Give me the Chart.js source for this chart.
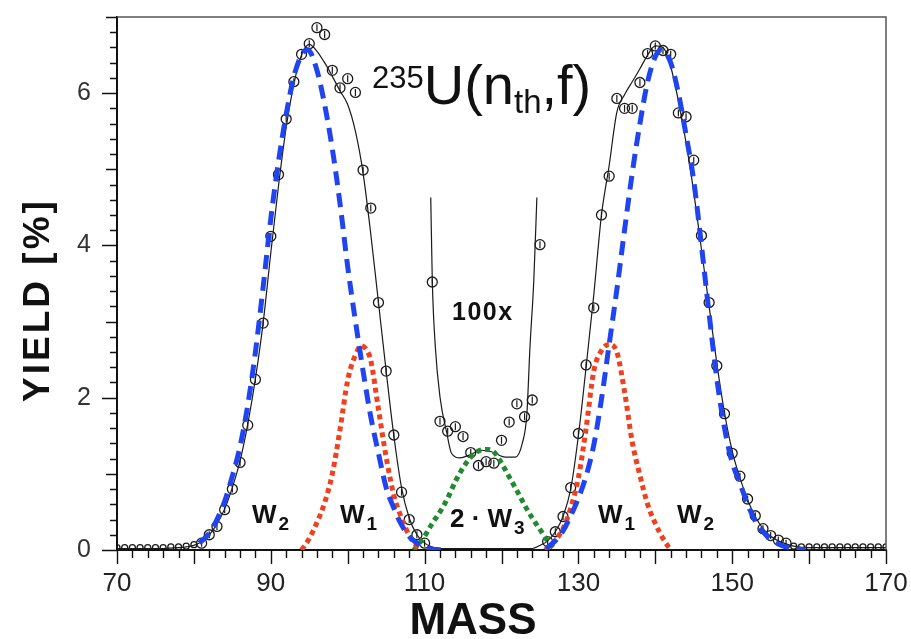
<!DOCTYPE html>
<html>
<head>
<meta charset="utf-8">
<title>235U(nth,f) mass yield</title>
<script src="https://cdn.jsdelivr.net/npm/chart.js@4.4.1/dist/chart.umd.min.js"></script>
<style>
    html, body { margin: 0; padding: 0; background: #fff; }
</style>
</head>
<body>
<canvas id="yield-chart" width="911" height="639"></canvas>
<script>
// measured yields (open circles)
const dataMass = [70, 71, 72, 73, 74, 75, 76, 77, 78, 79, 80, 81, 82, 83, 84, 85, 86, 87, 88, 89, 90,
    91, 92, 93, 94, 95, 96, 97, 98, 99, 100, 101, 102, 103, 104, 105, 106, 107, 108, 109, 110,
    126, 127, 128, 129, 130, 131, 132, 133, 134, 135, 136, 137, 138, 139, 140, 141, 142, 143, 144, 145,
    146, 147, 148, 149, 150, 151, 152, 153, 154, 155, 156, 157, 158, 159, 160, 161, 162, 163, 164, 165,
    166, 167, 168, 169, 170];
const dataYield = [0.03, 0.03, 0.03, 0.03, 0.03, 0.03, 0.03, 0.04, 0.04, 0.05, 0.07, 0.09, 0.20, 0.31, 0.53, 0.80, 1.15, 1.64, 2.24, 2.98, 4.12,
    4.93, 5.66, 6.15, 6.51, 6.65, 6.86, 6.77, 6.30, 6.07, 6.19, 6.01, 4.99, 4.49, 3.25, 2.35, 1.51, 0.76, 0.40, 0.20, 0.09,
    0.11, 0.24, 0.44, 0.82, 1.53, 2.43, 3.18, 4.40, 4.91, 5.93, 5.80, 5.80, 6.14, 6.52, 6.62, 6.56, 6.51, 5.74, 5.69, 5.12,
    4.13, 3.25, 2.42, 1.79, 1.27, 0.97, 0.67, 0.45, 0.28, 0.19, 0.13, 0.09, 0.05, 0.04, 0.04, 0.04, 0.04, 0.04, 0.04, 0.04,
    0.04, 0.04, 0.04, 0.04, 0.04];

// smooth curve through the data
const fitMass = [70, 76, 78, 79, 80, 81, 82, 83, 84, 85, 86, 87, 88, 89, 90, 91, 92, 93, 94, 95, 96, 97, 98, 99, 100,
    101, 102, 103, 104, 105, 106, 107, 108, 109, 110, 111, 112, 124, 125, 126, 127, 128, 129, 130, 131, 132, 133,
    134, 135, 136, 137, 138, 139, 140, 141, 142, 143, 144, 145, 146, 147, 148, 149, 150, 151, 152, 153, 154, 155,
    156, 157, 158, 160, 170];
const fitYield = [0.02, 0.02, 0.03, 0.04, 0.06, 0.11, 0.2, 0.34, 0.54, 0.82, 1.17, 1.65, 2.25, 2.98, 3.9, 4.78, 5.55, 6.12, 6.5, 6.64, 6.55, 6.4, 6.22, 6.03, 5.85,
    5.5, 4.95, 4.15, 3.25, 2.35, 1.5, 0.82, 0.42, 0.2, 0.09, 0.04, 0.02, 0.02, 0.06, 0.12, 0.24, 0.44, 0.8, 1.5, 2.4, 3.35, 4.4,
    5.05, 5.75, 5.98, 6.15, 6.32, 6.5, 6.62, 6.6, 6.35, 5.9, 5.35, 4.7, 3.95, 3.2, 2.45, 1.8, 1.3, 0.95, 0.66, 0.44, 0.28, 0.18,
    0.12, 0.08, 0.05, 0.03, 0.03];

// symmetric valley, yields multiplied by 100
const valleyMass = [111, 112, 113, 114, 115, 116, 117, 118, 119, 120, 121, 122, 123, 124, 125];
const valleyYield = [3.52, 1.69, 1.56, 1.62, 1.49, 1.28, 1.11, 1.16, 1.14, 1.44, 1.68, 1.92, 1.75, 1.97, 4.01];
const valleyFitMass = [110.8, 111, 111.4, 112, 112.9, 113.5, 114.6, 115.9, 117.4, 118.7, 120.5, 121.8, 122.7, 123.3, 123.7, 124.2, 124.6];
const valleyFitYield = [4.63, 3.54, 2.66, 2.01, 1.53, 1.27, 1.21, 1.25, 1.31, 1.29, 1.22, 1.22, 1.40, 1.79, 2.66, 3.54, 4.63];

// fission mode components
const w2LeftMass = [80.7, 82, 83, 84, 85, 86, 87, 88, 89, 90, 91, 92, 93, 94, 94.8, 96, 97, 98, 99, 100, 101, 102, 103, 104, 105, 106, 107, 108, 109, 110, 111, 112.8];
const w2LeftYield = [0.09, 0.22, 0.40, 0.64, 0.97, 1.36, 1.9, 2.6, 3.45, 4.35, 5.1, 5.72, 6.22, 6.5, 6.57, 6.3, 5.85, 5.27, 4.55, 3.72, 3.01, 2.35, 1.75, 1.27, 0.82, 0.55, 0.33, 0.18, 0.09, 0.03, 0.01, 0];
const w2RightMass = [125.8, 127, 128, 129, 130, 131, 132, 133, 134, 135, 136, 137, 138, 139, 140, 140.8, 142, 143, 144, 145, 146, 147, 148, 149, 150, 151, 152, 153, 154, 155, 156, 157, 158, 159.5];
const w2RightYield = [0.02, 0.12, 0.25, 0.45, 0.68, 0.97, 1.38, 1.98, 2.7, 3.42, 4.2, 4.95, 5.6, 6.15, 6.48, 6.57, 6.4, 6.0, 5.45, 4.85, 4.0, 3.1, 2.25, 1.6, 1.15, 0.88, 0.6, 0.38, 0.24, 0.14, 0.08, 0.04, 0.02, 0];
const w1LeftMass = [94, 95, 96, 97, 98, 99, 100, 101, 101.8, 102.5, 103, 104, 105, 106, 107, 108, 109, 109.5];
const w1LeftYield = [0, 0.15, 0.36, 0.62, 1.0, 1.58, 2.23, 2.56, 2.68, 2.62, 2.49, 1.85, 1.22, 0.72, 0.42, 0.19, 0.05, 0];
const w1RightMass = [125.7, 127, 128, 129, 130, 131, 132, 133, 134, 135, 136, 137, 138, 139, 140, 141, 142];
const w1RightYield = [0, 0.13, 0.28, 0.55, 0.95, 1.6, 2.35, 2.62, 2.7, 2.6, 2.08, 1.42, 0.98, 0.6, 0.35, 0.15, 0];
const w3Mass = [108.6, 109, 110, 111, 112, 113, 114, 115, 116, 117, 118, 119, 120, 121, 122, 123, 124, 125, 126, 127];
const w3Yield = [0, 0.05, 0.18, 0.35, 0.5, 0.68, 0.9, 1.08, 1.22, 1.3, 1.32, 1.29, 1.14, 0.96, 0.78, 0.59, 0.42, 0.27, 0.12, 0];

const FONT = '"Liberation Sans", Arial, sans-serif';
const BLUE = '#1f44f0';
const RED = '#f0401e';
const GREEN = '#1f8a2e';

function toPoints(xs, ys) {
    return xs.map((x, i) => ({ x: x, y: ys[i] }));
}

function modeCurve(label, xs, ys, color, dash) {
    return {
        label: label,
        data: toPoints(xs, ys),
        borderColor: color,
        borderWidth: 5,
        borderDash: dash,
        borderCapStyle: 'butt',
        cubicInterpolationMode: 'monotone',
        pointRadius: 0,
        fill: false
    };
}

function thinCurve(label, xs, ys) {
    return {
        label: label,
        data: toPoints(xs, ys),
        borderColor: '#1a1a1a',
        borderWidth: 1.2,
        cubicInterpolationMode: 'monotone',
        pointRadius: 0,
        fill: false
    };
}

function circles(label, xs, ys) {
    return {
        label: label,
        data: toPoints(xs, ys),
        showLine: false,
        pointStyle: 'circle',
        pointRadius: ctx => (ctx.raw && ctx.raw.y < 0.08 ? 3 : 5),
        pointBorderColor: '#1a1a1a',
        pointBackgroundColor: 'rgba(255,255,255,0)',
        pointBorderWidth: 1.3
    };
}

function errorBars(label, xs, ys) {
    return {
        label: label,
        data: toPoints(xs, ys),
        showLine: false,
        pointStyle: 'line',
        rotation: 90,
        pointRadius: ctx => (ctx.raw && ctx.raw.y < 0.08 ? 0 : 3.5),
        pointBorderColor: '#1a1a1a',
        pointBorderWidth: 1.2
    };
}

function drawRuns(ctx, x, y, runs) {
    runs.forEach(run => {
        ctx.font = (run.bold ? 'bold ' : '') + run.size + 'px ' + FONT;
        x += run.dx || 0;
        ctx.fillText(run.text, x, y + (run.dy || 0));
        x += ctx.measureText(run.text).width;
    });
}

const decorations = {
    id: 'decorations',
    afterDraw(chart) {
        const { ctx, chartArea: area, scales: { x, y } } = chart;
        ctx.save();

        // top and right frame
        ctx.strokeStyle = '#555';
        ctx.lineWidth = 1.5;
        ctx.beginPath();
        ctx.moveTo(area.left, area.top);
        ctx.lineTo(area.right, area.top);
        ctx.lineTo(area.right, area.bottom);
        ctx.stroke();

        // outside tick marks
        ctx.strokeStyle = '#111';
        ctx.lineWidth = 1.4;
        ctx.beginPath();
        x.ticks.forEach(t => {
            const px = Math.round(x.getPixelForValue(t.value)) + 0.5;
            const len = Math.round(t.value) % 10 === 0 ? 14 : 8;
            ctx.moveTo(px, area.bottom);
            ctx.lineTo(px, area.bottom + len);
        });
        y.ticks.forEach(t => {
            const py = Math.round(y.getPixelForValue(t.value)) + 0.5;
            const v = Math.round(t.value * 10) / 10;
            let len = 7;
            if (Number.isInteger(v)) len = v % 2 === 0 ? 15 : 11;
            ctx.moveTo(area.left, py);
            ctx.lineTo(area.left - len, py);
        });
        ctx.stroke();

        ctx.fillStyle = '#111';
        ctx.textBaseline = 'alphabetic';
        ctx.textAlign = 'left';

        // title
        drawRuns(ctx, 372, 104, [
            { text: '235', size: 31, dy: -16 },
            { text: 'U(n', size: 56 },
            { text: 'th', size: 33, dy: 9 },
            { text: ',f)', size: 56 }
        ]);

        // component labels
        const sub = (text) => ({ text: text, size: 19, bold: true, dy: 7, dx: 2 });
        drawRuns(ctx, 252, 523, [{ text: 'W', size: 26, bold: true }, sub('2')]);
        drawRuns(ctx, 340, 523, [{ text: 'W', size: 26, bold: true }, sub('1')]);
        drawRuns(ctx, 450, 527, [{ text: '2 \u00b7 W', size: 26, bold: true }, sub('3')]);
        drawRuns(ctx, 598, 523, [{ text: 'W', size: 26, bold: true }, sub('1')]);
        drawRuns(ctx, 677, 523, [{ text: 'W', size: 26, bold: true }, sub('2')]);

        ctx.letterSpacing = '1.5px';
        drawRuns(ctx, 452, 320, [{ text: '100x', size: 25, bold: true }]);

        // axis titles
        ctx.letterSpacing = '0px';
        ctx.textAlign = 'center';
        ctx.font = 'bold 44px ' + FONT;
        ctx.fillText('MASS', 473, 634);

        ctx.translate(49, 300);
        ctx.rotate(-Math.PI / 2);
        ctx.letterSpacing = '3px';
        ctx.font = 'bold 37px ' + FONT;
        ctx.fillText('YIELD [%]', 0, 0);

        ctx.restore();
    }
};

const context = document.getElementById('yield-chart').getContext('2d');
const chart = new Chart(context, {
    type: 'line',
    data: {
        datasets: [
            modeCurve('W2 light', w2LeftMass, w2LeftYield, BLUE, [14, 8]),
            modeCurve('W2 heavy', w2RightMass, w2RightYield, BLUE, [14, 8]),
            modeCurve('W1 light', w1LeftMass, w1LeftYield, RED, [5, 4]),
            modeCurve('W1 heavy', w1RightMass, w1RightYield, RED, [5, 4]),
            modeCurve('2 W3', w3Mass, w3Yield, GREEN, [5, 4]),
            circles('yield', dataMass, dataYield),
            errorBars('yield error', dataMass, dataYield),
            circles('yield x100', valleyMass, valleyYield),
            errorBars('yield x100 error', valleyMass, valleyYield),
            thinCurve('fit', fitMass, fitYield),
            thinCurve('fit x100', valleyFitMass, valleyFitYield)
        ]
    },
    options: {
        responsive: false,
        animation: false,
        events: [],
        layout: { padding: { left: 0, top: 17, right: 25, bottom: 0 } },
        plugins: {
            legend: { display: false },
            tooltip: { enabled: false }
        },
        scales: {
            x: {
                type: 'linear',
                min: 70,
                max: 170,
                grid: { display: false },
                border: { display: true, color: '#111', width: 2 },
                ticks: {
                    stepSize: 2,
                    autoSkip: false,
                    maxRotation: 0,
                    padding: 10,
                    color: '#222',
                    font: { family: FONT, size: 26 },
                    callback: value => (Math.round(value) % 20 === 10 ? value : '')
                },
                afterFit: scale => {
                    scale.height = 89;
                    scale.paddingLeft = 0;
                    scale.paddingRight = 0;
                }
            },
            y: {
                min: 0,
                max: 7,
                grid: { display: false },
                border: { display: true, color: '#111', width: 2 },
                ticks: {
                    stepSize: 0.2,
                    autoSkip: false,
                    padding: 18,
                    color: '#333',
                    font: { family: FONT, size: 25 },
                    callback: value => {
                        const v = Math.round(value * 10) / 10;
                        return Number.isInteger(v) && v % 2 === 0 ? v : '';
                    }
                },
                afterFit: scale => {
                    scale.width = 117;
                    scale.paddingTop = 0;
                    scale.paddingBottom = 0;
                }
            }
        }
    },
    plugins: [decorations]
});
</script>
</body>
</html>
